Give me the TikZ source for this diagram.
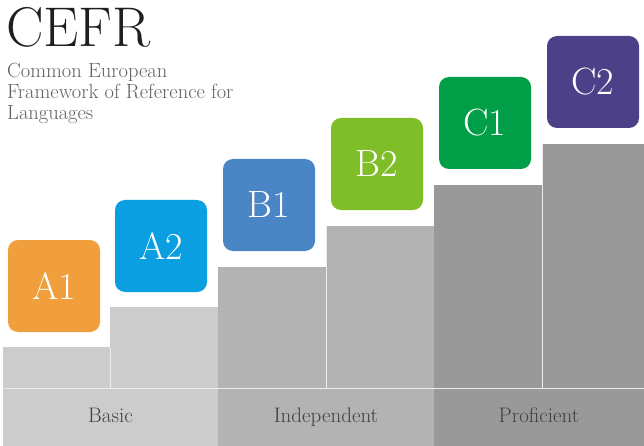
\documentclass[tikz,border=0pt]{standalone}
\usepackage{xcolor}
\definecolor{levelAone}{HTML}{F19F3C}
\definecolor{levelAtwo}{HTML}{0A9FE0}
\definecolor{levelBone}{HTML}{4A85C6}
\definecolor{levelBtwo}{HTML}{7FBD29}
\definecolor{levelCone}{HTML}{009E46}
\definecolor{levelCtwo}{HTML}{4C4189}
\definecolor{stepA}{HTML}{CCCCCC}
\definecolor{stepB}{HTML}{B3B3B3}
\definecolor{stepC}{HTML}{999999}
\tikzset{
  levelbox/.style={rounded corners=10pt,minimum width=92pt,minimum height=92pt,
    inner sep=0pt,text=white,font=\fontsize{38}{38}\selectfont},
  bandlabel/.style={anchor=base,text=black!75,font=\fontsize{21}{21}\selectfont},
  seam/.style={color=black!8,line width=0.8pt}
}
\begin{document}
\begin{tikzpicture}[x=1pt,y=-1pt]
   \useasboundingbox (0,0) rectangle (644,446);

   % steps
   \fill[stepA] (3,347) rectangle (110,446);
   \fill[stepA] (110,307) rectangle (218,446);
   \fill[stepB] (218,267) rectangle (326,446);
   \fill[stepB] (326,226) rectangle (434,446);
   \fill[stepC] (434,185) rectangle (542,446);
   \fill[stepC] (542,144) rectangle (644,446);
   \draw[seam] (110,347)--(110,388);
   \draw[seam] (326,226)--(326,388);
   \draw[seam] (542,144)--(542,388);
   \draw[seam] (3,388)--(644,388);

   % bands
   \node[bandlabel] (basic) at (110.5,422) {Basic};
   \node[bandlabel] (indep) at (326,422) {Independent};
   \node[bandlabel] (prof) at (539,422) {Proficient};

   % levels
   \node[levelbox,fill=levelAone] (a1) at (54,286) {A1};
   \node[levelbox,fill=levelAtwo] (a2) at (161,246) {A2};
   \node[levelbox,fill=levelBone] (b1) at (269,205) {B1};
   \node[levelbox,fill=levelBtwo] (b2) at (377,164) {B2};
   \node[levelbox,fill=levelCone] (c1) at (485,123) {C1};
   \node[levelbox,fill=levelCtwo] (c2) at (593,82) {C2};

   % title
   \node[anchor=base west,inner sep=0pt,text=black!88,
     font=\fontsize{56}{56}\selectfont] (title) at (6,47) {CEFR};
   \node[anchor=north west,inner sep=0pt,align=left,text=black!62,
     font=\fontsize{20.5}{21}\selectfont] (subtitle) at (7,63)
     {Common European\\Framework of Reference for\\Languages};
\end{tikzpicture}
\end{document}
